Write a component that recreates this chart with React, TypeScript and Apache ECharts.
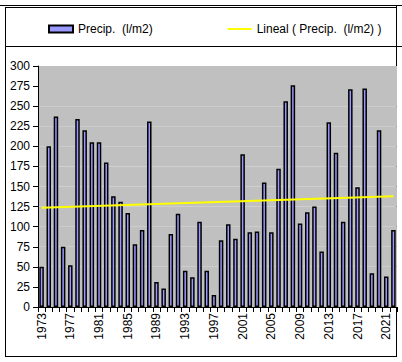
import React, { useEffect, useRef } from "react";
import * as echarts from "echarts";

const years: string[] = [
  "1973","1974","1975","1976","1977","1978","1979","1980","1981","1982",
  "1983","1984","1985","1986","1987","1988","1989","1990","1991","1992",
  "1993","1994","1995","1996","1997","1998","1999","2000","2001","2002",
  "2003","2004","2005","2006","2007","2008","2009","2010","2011","2012",
  "2013","2014","2015","2016","2017","2018","2019","2020","2021","2022",
];

const precip: number[] = [
  50, 200, 237, 75, 52, 234, 220, 205, 205, 180,
  138, 131, 117, 78, 96, 231, 31, 23, 91, 116,
  45, 37, 106, 45, 15, 83, 103, 85, 190, 93,
  94, 155, 93, 172, 256, 276, 104, 118, 125, 69,
  230, 192, 106, 271, 149, 272, 42, 220, 38, 96,
];

// Trend line end points (first and last year)
const trendStart = 123.5;
const trendEnd = 138;

const yTicks = { min: 0, max: 300, interval: 25 };

const barName = "Precip.  (l/m2)";
const trendName = "Lineal ( Precip.  (l/m2) )";

export default function App() {
  const ref = useRef<HTMLDivElement>(null);

  useEffect(() => {
    if (!ref.current) return;
    const chart = echarts.init(ref.current, null, { renderer: "svg" });
    const last = years.length - 1;
    const trendData = years.map((_, i) =>
      i === 0 ? trendStart : i === last ? trendEnd : null
    );
    const font = "'Liberation Sans', Arial, sans-serif";

    chart.setOption({
      animation: false,
      backgroundColor: "#ffffff",
      textStyle: { fontFamily: font },
      grid: { left: 38, right: 5, top: 66, bottom: 55, containLabel: false },
      legend: {
        left: 43,
        top: 18,
        itemWidth: 24,
        itemHeight: 7,
        itemGap: 74,
        textStyle: { fontSize: 12, color: "#000", fontFamily: font },
        data: [
          { name: barName, icon: "rect" },
          { name: trendName, itemStyle: { opacity: 0 } },
        ],
      },
      xAxis: {
        type: "category",
        data: years,
        boundaryGap: true,
        axisLine: { show: true, lineStyle: { color: "#000", width: 1 } },
        axisTick: { show: true, interval: 0, length: 5, lineStyle: { color: "#000" } },
        axisLabel: {
          interval: 3,
          rotate: 90,
          fontSize: 12,
          color: "#000",
          margin: 6,
          fontFamily: font,
        },
        splitLine: { show: false },
      },
      yAxis: {
        type: "value",
        min: yTicks.min,
        max: yTicks.max,
        interval: yTicks.interval,
        axisLine: { show: true, lineStyle: { color: "#000", width: 1 } },
        axisTick: { show: true, length: 5, lineStyle: { color: "#000" } },
        axisLabel: { fontSize: 12, color: "#000", margin: 8, fontFamily: font },
        splitLine: { show: false },
        splitArea: { show: true, areaStyle: { color: ["#C0C0C0", "#C0C0C0"] } },
      },
      graphic: [
        { type: "line", shape: { x1: 0, y1: 5.5, x2: 402, y2: 5.5 }, style: { stroke: "#000", lineWidth: 1 }, silent: true },
        { type: "line", shape: { x1: 5, y1: 7.5, x2: 396, y2: 7.5 }, style: { stroke: "#000", lineWidth: 1 }, silent: true },
        { type: "line", shape: { x1: 5.5, y1: 7, x2: 5.5, y2: 357 }, style: { stroke: "#000", lineWidth: 1 }, silent: true },
        { type: "line", shape: { x1: 396.5, y1: 5, x2: 396.5, y2: 357 }, style: { stroke: "#000", lineWidth: 1 }, silent: true },
        { type: "line", shape: { x1: 5, y1: 46.5, x2: 402, y2: 46.5 }, style: { stroke: "#000", lineWidth: 1 }, silent: true },
        { type: "line", shape: { x1: 5, y1: 356.5, x2: 397, y2: 356.5 }, style: { stroke: "#000", lineWidth: 1 }, silent: true },
      ],
      series: [
        {
          name: barName,
          type: "bar",
          data: precip,
          barWidth: 4.5,
          itemStyle: { color: "#9999FF", borderColor: "#000", borderWidth: 1.5 },
        },
        {
          name: trendName,
          type: "line",
          data: trendData,
          connectNulls: true,
          symbol: "none",
          lineStyle: { color: "#FFFF00", width: 2 },
          itemStyle: { color: "#FFFF00" },
          z: 5,
        },
      ],
    });

    return () => chart.dispose();
  }, []);

  return (
    <div
      ref={ref}
      style={{ width: 402, height: 362, position: "absolute", left: 0, top: 0 }}
    />
  );
}
